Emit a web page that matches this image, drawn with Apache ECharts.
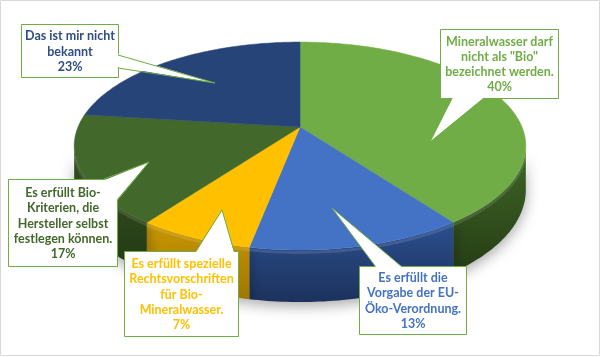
<!DOCTYPE html>
<html><head><meta charset="utf-8">
<script src="https://cdn.jsdelivr.net/npm/echarts@6/dist/echarts.min.js"></script>
<style>html,body{margin:0;padding:0;background:#fff}#c{width:601px;height:357px}</style>
</head><body><div id="c"></div>
<script>
// ---- data ----
const categories = [
  "Mineralwasser darf\nnicht als \"Bio\"\nbezeichnet werden.",
  "Es erfüllt die\nVorgabe der EU-\nÖko-Verordnung.",
  "Es erfüllt spezielle\nRechtsvorschriften\nfür Bio-\nMineralwasser.",
  "Es erfüllt Bio-\nKriterien, die\nHersteller selbst\nfestlegen können.",
  "Das ist mir nicht\nbekannt"
];
const values = [40, 13, 7, 17, 23];

// ---- styles ----
const topColors  = ['#70ad47', '#4472c4', '#ffc000', '#43682b', '#264478'];
const sideTop    = ['#3f6726', '#2b4f8f', '#c99700', '#33511f', '#1a3158'];
const sideBottom = ['#263d15', '#1c325c', '#a07600', '#243a15', '#13243f'];
const textColors = ['#70ad47', '#4472c4', '#ffc000', '#43682b', '#2f4d84'];
const BORDER = '#70ad47';

// ---- geometry (layout) ----
const CX = 300, CY = 127, RX = 222, RY = 100.5, K = 0.183, H = 42.5;
const SIL = Math.acos(-K) * 180 / Math.PI;

function proj(deg, r, dz) {
  const t = deg * Math.PI / 180;
  const s = 1 / (1 + K * r * Math.cos(t));
  return [CX + RX * r * Math.sin(t) * s, CY - RY * r * Math.cos(t) * s + (dz || 0) * s];
}

const total = values.reduce((a, b) => a + b, 0);
const starts = [], ends = [];
let acc = 0;
values.forEach(v => { starts.push(acc / total * 360); acc += v; ends.push(acc / total * 360); });

// callout layout (label boxes and pointer wedges)
const callouts = [
  {box: [440, 29, 118, 69], b1: [452, 98], b2: [484, 98], tip: [430, 142]},
  {box: [359, 266, 107, 68], b1: [375, 266], b2: [401, 266], tip: [332, 208]},
  {box: [124, 251, 114, 85], b1: [196, 251], b2: [234, 251], tip: [222, 210]},
  {box: [8, 179, 109, 87], b1: [104, 179], b2: [117, 201], corner: [117, 179], tip: [149, 162]},
  {box: [21, 24, 97, 53], b1: [118, 55], b2: [118, 68], tip: [215, 83]}
];

function arcPts(a, b, dz) {
  const pts = [];
  const n = Math.max(2, Math.ceil((b - a) / 1));
  for (let j = 0; j <= n; j++) pts.push(proj(a + (b - a) * j / n, 1, dz));
  return pts;
}

const graphics = [{
  type: 'rect', z: 1, silent: true,
  shape: {x: 0.5, y: 0.5, width: 599, height: 355},
  style: {fill: 'none', stroke: '#d9d9d9', lineWidth: 1}
}];

callouts.forEach((c, i) => {
  const [x, y, w, h] = c.box;
  graphics.push({
    type: 'rect', z: 100,
    shape: {x: x + 0.5, y: y + 0.5, width: w, height: h},
    style: {fill: '#fff', stroke: BORDER, lineWidth: 1}
  });
  let inner;
  if (c.corner) {
    inner = [[c.b1[0], c.b1[1] + 1.2], c.tip, [c.b2[0] - 1.2, c.b2[1]], [c.corner[0] - 1, c.corner[1] + 1.5]];
  } else {
    const vx = c.b1[0] === c.b2[0];
    const off = vx ? [-1.2, 0] : [0, 1.2];
    if (c.tip[1] > y + h) off[1] = -1.2;
    if (c.tip[0] < x) off[0] = 1.2;
    inner = [[c.b1[0] + off[0], c.b1[1] + off[1]], c.tip, [c.b2[0] + off[0], c.b2[1] + off[1]]];
  }
  graphics.push({type: 'polygon', z: 101, shape: {points: inner}, style: {fill: '#fff', stroke: null}});
  graphics.push({type: 'polyline', z: 102, shape: {points: [c.b1, c.tip, c.b2]}, style: {fill: null, stroke: BORDER, lineWidth: 1}});
  graphics.push({
    type: 'text', z: 103,
    style: {
      text: categories[i] + '\n' + values[i] + '%',
      x: x + w / 2 + 0.5, y: y + h / 2 + 1,
      align: 'center', verticalAlign: 'middle',
      font: 'bold 12.5px Lato, "Open Sans", sans-serif',
      lineHeight: 15.3,
      fill: textColors[i]
    }
  });
});

const chart = echarts.init(document.getElementById('c'), null, {renderer: 'canvas'});
chart.setOption({
  animation: false,
  backgroundColor: '#fff',
  series: [{
    type: 'custom',
    coordinateSystem: 'none',
    data: values,
    renderItem: function (params, api) {
      const i = params.dataIndex;
      const a = starts[i], b = ends[i];
      const children = [];
      const lo = Math.max(a, SIL), hi = Math.min(b, 360 - SIL);
      if (hi > lo) {
        const top = arcPts(lo, hi, 0);
        const bot = arcPts(lo, hi, H).reverse();
        children.push({
          type: 'polygon', z2: 1,
          shape: {points: top.concat(bot)},
          style: {
            fill: new echarts.graphic.LinearGradient(0, 0, 0, 1, [
              {offset: 0, color: sideTop[i]}, {offset: 1, color: sideBottom[i]}
            ]),
            shadowBlur: 14, shadowColor: 'rgba(0,0,0,0.35)', shadowOffsetY: 4
          }
        });
        children.push({
          type: 'polyline', z2: 2,
          shape: {points: arcPts(lo, hi, 2)},
          style: {fill: null, stroke: 'rgba(255,255,255,0.12)', lineWidth: 3}
        });
      }
      children.push({
        type: 'polygon', z2: 10,
        shape: {points: [[CX, CY]].concat(arcPts(a, b, 0))},
        style: {fill: topColors[i], stroke: topColors[i], lineWidth: 0.5}
      });
      return {type: 'group', children: children};
    }
  }],
  graphic: graphics
});
</script>
</body></html>
